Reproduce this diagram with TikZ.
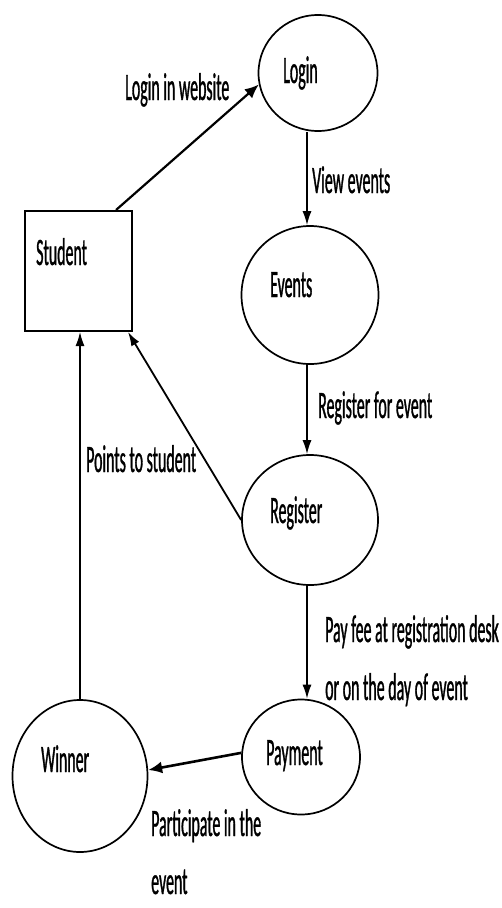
\documentclass[tikz,border=0pt]{standalone}
\usepackage{fontspec}
\setmainfont{Carlito}[FakeStretch=0.41, FakeBold=0.8]
\usetikzlibrary{shapes.geometric,arrows.meta}

\tikzset{
  proc/.style={draw, ellipse, line width=1.7pt, inner sep=0pt},
  flow/.style={-{Latex[length=14pt,width=9pt]}, line width=1.4pt},
  bigflow/.style={-{Latex[length=14pt,width=12pt]}, line width=2.6pt},
  lbl/.style={anchor=base west, inner sep=0pt, align=left}
}

\begin{document}
\begin{tikzpicture}[x=1pt, y=-1pt, font=\fontsize{38.8}{58}\selectfont]
\useasboundingbox (0,0) rectangle (502,908);

% the entity and the processes
\node[draw, line width=2pt, minimum width=107pt, minimum height=120pt, inner sep=0pt] (student) at (78.5,271) {};
\node[proc, minimum width=119pt, minimum height=116pt] (login) at (318,73) {};
\node[proc, minimum width=137pt, minimum height=138pt] (events) at (310,295) {};
\node[proc, minimum width=136pt, minimum height=130pt] (register) at (310,520) {};
\node[proc, minimum width=118pt, minimum height=115pt] (payment) at (301,757) {};
\node[proc, minimum width=135pt, minimum height=152pt] (winner) at (80,776) {};

\node[lbl] (studentT) at (36,265) {Student};
\node[lbl] (loginT) at (283,83) {Login};
\node[lbl] (eventsT) at (270,297) {Events};
\node[lbl] (registerT) at (270,523) {Register};
\node[lbl] (paymentT) at (266,765) {Payment};
\node[lbl] (winnerT) at (41,772) {Winner};

% data flows
\draw[bigflow, line width=2.2pt] ([xshift=-17pt]student.north east) -- (login.191);
\draw[flow] ([xshift=-11pt]login.south) -- ([xshift=-3pt]events.north);
\draw[flow] ([xshift=-3pt]events.south) -- ([xshift=-3pt]register.north);
\draw[flow, line width=1.8pt] (register.west) -- ([xshift=-5pt]student.south east);
\draw[flow] (winner.north) -- (winner.north |- student.south);
\draw[flow] ([xshift=-3pt]register.south) -- ([xshift=6pt]payment.north);
\draw[bigflow] (payment.176) -- (winner.5);

% flow labels (base = last line)
\node[lbl] (loginL) at (125,100) {Login in website};
\node[lbl] (viewL) at (312,193) {View events};
\node[lbl] (regL) at (318,418) {Register for event};
\node[lbl] (pointsL) at (86,472) {Points to student};
\node[lbl] (payL) at (325,700) {Pay fee at registration desk\\or on the day of event};
\node[lbl] (partL) at (151,894) {Participate in the\\event};
\end{tikzpicture}
\end{document}
